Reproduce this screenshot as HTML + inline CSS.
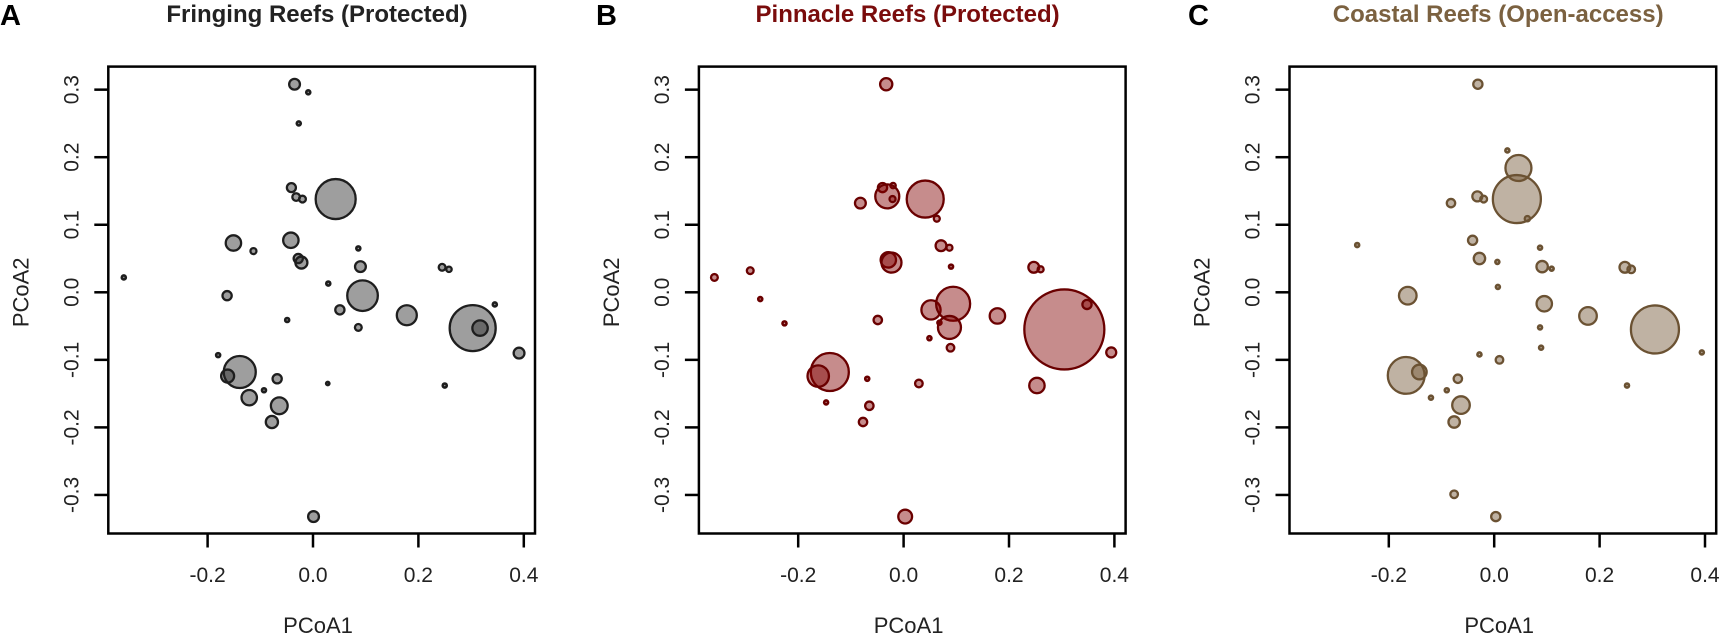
<!DOCTYPE html>
<html><head><meta charset="utf-8"><style>
html,body{margin:0;padding:0;background:#fff;}
svg{display:block;font-family:"Liberation Sans",Arial,sans-serif;}
</style></head><body>
<svg id="chart" width="1721" height="641" viewBox="0 0 1721 641"></svg>
<script>
// Panel A: Fringing Reefs (Protected)
const xA=[-0.035,-0.009,-0.027,-0.041,-0.032,-0.020,0.043,-0.151,-0.113,-0.042,-0.028,-0.022,0.086,0.090,0.245,0.258,-0.359,0.029,-0.163,0.094,0.051,-0.049,0.086,0.178,0.303,0.317,0.345,0.391,-0.180,-0.139,-0.162,0.028,0.250,-0.068,-0.093,-0.121,-0.064,-0.078,0.001];
const yA=[0.308,0.296,0.250,0.155,0.141,0.138,0.138,0.073,0.061,0.077,0.050,0.044,0.065,0.038,0.037,0.034,0.022,0.013,-0.005,-0.005,-0.026,-0.041,-0.052,-0.034,-0.053,-0.053,-0.018,-0.090,-0.093,-0.118,-0.124,-0.135,-0.138,-0.128,-0.145,-0.156,-0.168,-0.192,-0.332];
const sA=[5.4,2,2,4.5,3.8,3.4,20,7.7,3,7.7,4.6,6,2,5.4,3.4,2.7,2,2,4.6,15.3,4.6,2,3.4,10,23,7.7,2,5.4,2,16,6.5,1.6,2,4.6,2,7.7,8.4,6.1,5.4];
// Panel B: Pinnacle Reefs (Protected)
const xB=[-0.033,-0.082,-0.040,-0.020,-0.031,-0.021,0.041,0.063,0.071,0.087,0.090,-0.029,-0.023,-0.359,-0.291,-0.272,-0.226,-0.049,0.052,0.094,0.068,0.087,0.049,0.089,0.178,0.247,0.260,0.305,0.348,0.394,-0.140,-0.162,-0.069,-0.147,-0.065,-0.077,0.029,0.253,0.003];
const yB=[0.308,0.132,0.155,0.158,0.142,0.138,0.138,0.109,0.069,0.066,0.038,0.048,0.044,0.022,0.032,-0.010,-0.046,-0.041,-0.026,-0.017,-0.045,-0.052,-0.068,-0.082,-0.035,0.037,0.034,-0.055,-0.018,-0.089,-0.118,-0.124,-0.128,-0.163,-0.168,-0.192,-0.135,-0.138,-0.332];
const sB=[6.1,5.4,4.6,2.7,12,3,18.5,3,5.4,3,2,7.7,10,3.4,3.4,2,2,4.2,9.6,17,2,11.5,2,3.8,7.7,5.4,3,40,4.6,5,19,10.7,2,2,4.2,4.2,3.8,7.7,6.9];
// Panel C: Coastal Reefs (Open-access)
const xC=[-0.031,0.025,0.046,0.043,-0.082,-0.032,-0.020,0.063,-0.041,-0.028,0.006,0.087,0.091,0.109,0.248,0.260,-0.260,0.007,-0.164,0.095,0.178,0.087,0.305,0.394,-0.028,0.010,0.089,-0.167,-0.142,-0.069,-0.090,-0.120,-0.063,-0.076,0.252,-0.076,0.003];
const yC=[0.308,0.210,0.184,0.138,0.132,0.142,0.138,0.109,0.077,0.050,0.045,0.066,0.038,0.035,0.037,0.034,0.070,0.008,-0.005,-0.017,-0.035,-0.052,-0.055,-0.089,-0.092,-0.100,-0.082,-0.123,-0.118,-0.128,-0.145,-0.156,-0.167,-0.192,-0.138,-0.299,-0.332];
const sC=[4.6,2,13,24,4.2,5,3.4,2.7,4.6,5.7,2,2,5.7,2,5.4,3.8,2,2,8.8,7.7,8.8,2,24,2,2,3.8,2,18.4,7.3,4.2,2,2,8.8,5.7,2,3.8,4.6];
const xTicks=[-0.2,0.0,0.2,0.4];
const xTickLabels=["-0.2","0.0","0.2","0.4"];
const yTicks=[0.3,0.2,0.1,0.0,-0.1,-0.2,-0.3];
const yTickLabels=["0.3","0.2","0.1","0.0","-0.1","-0.2","-0.3"];

const NS="http://www.w3.org/2000/svg";
const svg=document.getElementById('chart');
function mk(tag,attrs,parent){const e=document.createElementNS(NS,tag);for(const k in attrs)e.setAttribute(k,attrs[k]);(parent||svg).appendChild(e);return e;}

const panels=[
 {id:'a',letter:'A',lx:0,title:'Fringing Reefs (Protected)',tcol:'#222',x:xA,y:yA,s:sA,fill:'rgba(40,40,40,0.45)',stroke:'#1e1e1e',off:0},
 {id:'b',letter:'B',lx:596,title:'Pinnacle Reefs (Protected)',tcol:'#7a0c0c',x:xB,y:yB,s:sB,fill:'rgba(128,0,0,0.45)',stroke:'#6a0000',off:590.6},
 {id:'c',letter:'C',lx:1188,title:'Coastal Reefs (Open-access)',tcol:'#7b6140',x:xC,y:yC,s:sC,fill:'rgba(112,85,50,0.45)',stroke:'#6b5233',off:1181.2}
];
const Y0=292.3, YS=675.5, BOXT=66.6, BOXB=533.5;
panels.forEach(p=>{
 const X0=313+p.off, XS=527;
 const sx=v=>X0+v*XS, sy=v=>Y0-v*YS;
 const left=108.3+p.off, right=535+p.off;
 const g=mk('g',{});
 
 
 const L=mk('text',{x:p.lx,y:25,'font-size':29,'font-weight':'bold',fill:'#000'},g);
 L.textContent=p.letter;
 
 
 const T=mk('text',{x:X0+4,y:22,'font-size':24,'font-weight':'bold','text-anchor':'middle',fill:p.tcol},g);
 T.textContent=p.title;
 
 
 const pg=mk('g',{},g);
 
 
 p.x.forEach((v,i)=>{
  const c=mk('circle',{cx:sx(v),cy:sy(p.y[i]),r:p.s[i],fill:p.fill,stroke:p.stroke,'stroke-width':p.s[i]<=2.1?2.6:2.3},pg);
  
  
 });
 const box=mk('rect',{x:left,y:BOXT,width:right-left,height:BOXB-BOXT,fill:'none',stroke:'#000','stroke-width':2.5},g);
 
 
 xTicks.forEach((t,i)=>{
  mk('line',{x1:sx(t),x2:sx(t),y1:BOXB,y2:BOXB+14,stroke:'#000','stroke-width':2.5},g);
  const tx=mk('text',{x:sx(t),y:582,'font-size':21,'text-anchor':'middle',fill:'#222'},g);
  tx.textContent=xTickLabels[i];
  
  
 });
 yTicks.forEach((t,i)=>{
  mk('line',{x1:left-14,x2:left,y1:sy(t),y2:sy(t),stroke:'#000','stroke-width':2.5},g);
  const tx=mk('text',{x:0,y:0,'font-size':21,'text-anchor':'middle',fill:'#222',transform:`translate(${left-30},${sy(t)}) rotate(-90)`},g);
  tx.textContent=yTickLabels[i];
  
  
 });
 const xt=mk('text',{x:X0+5,y:633,'font-size':22,'text-anchor':'middle',fill:'#222'},g);
 xt.textContent='PCoA1';
 
 
 const yt=mk('text',{x:0,y:0,'font-size':22,'text-anchor':'middle',fill:'#222',transform:`translate(${left-80},${Y0}) rotate(-90)`},g);
 yt.textContent='PCoA2';
 
 
});
</script>
</body></html>
